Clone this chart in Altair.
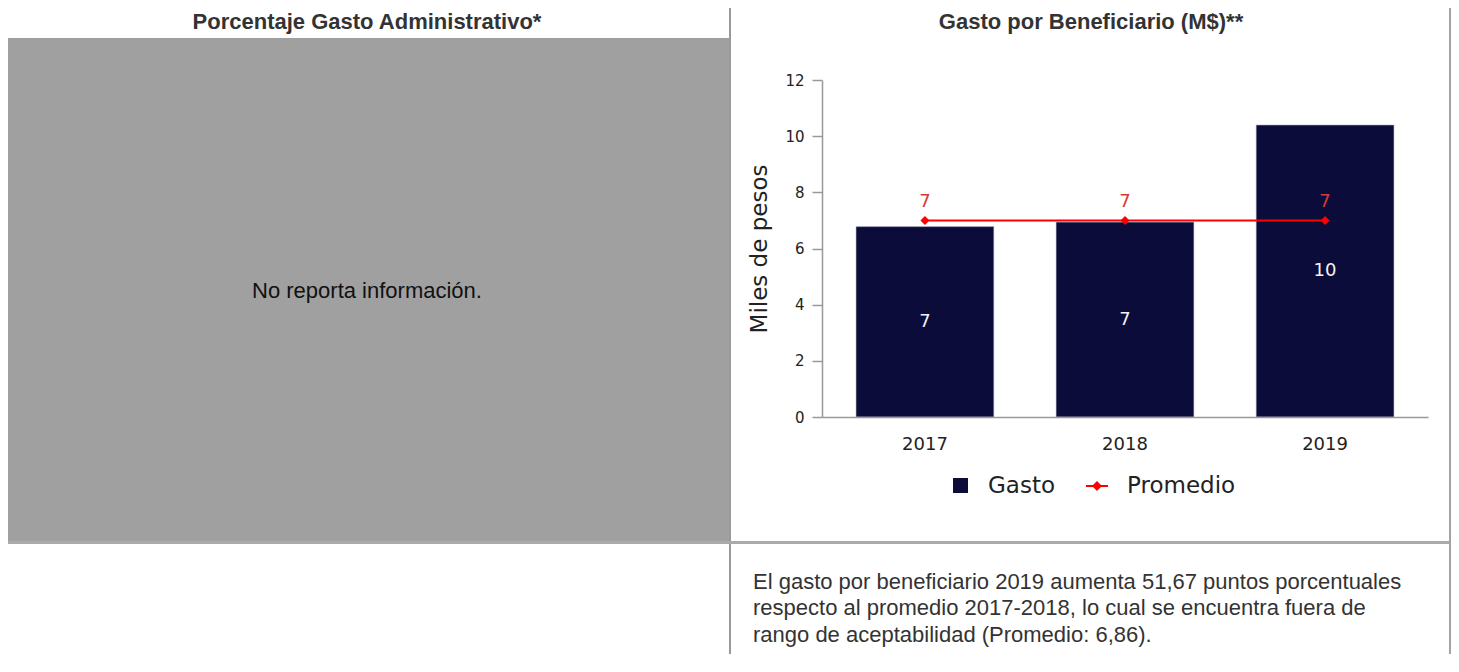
import altair as alt
import pandas as pd

# ---- data ----
years = ["2017", "2018", "2019"]
gasto = [6.78, 6.94, 10.40]
promedio = [7.0, 7.0, 7.0]
series = ["Gasto", "Promedio"]
series_colors = ["#0c0c3a", "#ff0000"]
y_ticks = list(range(0, 13))

header_left = "Porcentaje Gasto Administrativo*"
header_right = "Gasto por Beneficiario (M$)**"
no_info = "No reporta información."
comment_lines = [
    "El gasto por beneficiario 2019 aumenta 51,67 puntos porcentuales",
    "respecto al promedio 2017-2018, lo cual se encuentra fuera de",
    "rango de aceptabilidad (Promedio: 6,86).",
]

df = pd.DataFrame({"anio": years, "gasto": gasto, "promedio": promedio})
df["serie_g"] = series[0]
df["serie_p"] = series[1]

one = pd.DataFrame({"k": [0]})

# plot area origin sits at reference pixel (822, 80); width 606, height 337
W, H = 606, 337
X0, Y0 = 822, 80


def rx(v):
    return v - X0


def ry(v):
    return v - Y0


ARIAL = "Liberation Sans"
DEJAVU = "DejaVu Sans"


def box(x1, x2, y1, y2, color):
    return alt.Chart(one).mark_rect(color=color, strokeWidth=0).encode(
        x=alt.value(rx(x1)), x2=alt.value(rx(x2)), y=alt.value(ry(y1)), y2=alt.value(ry(y2))
    )


def label(txt, x, y, size, color, weight="normal", align="center", font=ARIAL):
    return alt.Chart(one).mark_text(
        text=txt, font=font, fontSize=size, fontWeight=weight, color=color,
        align=align, baseline="middle"
    ).encode(x=alt.value(rx(x)), y=alt.value(ry(y)))


decor = [
    box(8, 1451, 8, 654, "white"),
    box(8, 729, 38, 543, "#a0a0a0"),
    box(729, 731, 8, 654, "#999999"),
    box(1449, 1451, 8, 654, "#a3a3a3"),
    box(8, 1449, 541, 544, "#aaaaaa"),
]

texts = [
    label(header_left, 367, 22, 22, "#333333", weight="bold"),
    label(header_right, 1091, 22, 22, "#333333", weight="bold"),
    label(no_info, 367, 291, 22, "#111111"),
]
for i, line in enumerate(comment_lines):
    texts.append(label(line, 753, 581.5 + i * 26.5, 22, "#333333", align="left"))

x_enc = alt.X(
    "anio:N",
    sort=years,
    scale=alt.Scale(paddingInner=0.311, paddingOuter=0.17),
    axis=alt.Axis(
        title=None, labelAngle=0, ticks=False, labelFont=DEJAVU, labelFontSize=18,
        labelColor="#222222", labelPadding=18, domainColor="#999999", domainWidth=1.5,
        zindex=1,
    ),
)

y_scale = alt.Scale(domain=[0, 12], nice=False, zero=True)

bars = alt.Chart(df).mark_bar(stroke="#c0c0d0", strokeWidth=0.6).encode(
    x=x_enc,
    y=alt.Y(
        "gasto:Q",
        scale=y_scale,
        axis=alt.Axis(
            title="Miles de pesos", titleFont=DEJAVU, titleFontSize=23,
            titleFontWeight="normal", titleColor="#222222", titlePadding=13,
            values=y_ticks, grid=False, zindex=1,
            labelExpr="datum.value % 2 == 0 ? datum.label : ''",
            labelFont=DEJAVU, labelFontSize=15, labelColor="#222222", labelPadding=8,
            tickSize={"condition": {"test": "datum.value % 2 == 0", "value": 10}, "value": 6},
            tickColor="#999999", tickWidth=1.5, domainColor="#999999", domainWidth=1.5,
        ),
    ),
    color=alt.Color(
        "serie_g:N",
        scale=alt.Scale(domain=[series[0]], range=[series_colors[0]]),
        legend=alt.Legend(
            title=None, orient="none", legendX=127, legendY=394, symbolType="square",
            symbolSize=225, symbolStrokeWidth=0, labelFont=DEJAVU, labelFontSize=23,
            labelColor="#222222", labelOffset=16,
        ),
    ),
)

bar_labels = alt.Chart(df).transform_calculate(mid="datum.gasto / 2").mark_text(
    font=DEJAVU, fontSize=18, color="#f4f4f4", baseline="middle"
).encode(
    x=alt.X("anio:N", sort=years),
    y=alt.Y("mid:Q", scale=y_scale),
    text=alt.Text("gasto:Q", format=".0f"),
)

line = alt.Chart(df).mark_line(strokeWidth=2).encode(
    x=alt.X("anio:N", sort=years),
    y=alt.Y("promedio:Q", scale=y_scale),
    stroke=alt.Stroke(
        "serie_p:N",
        scale=alt.Scale(domain=[series[1]], range=[series_colors[1]]),
        legend=alt.Legend(
            title=None, orient="none", legendX=263, legendY=394,
            symbolType="M-1,0L1,0M-0.32,0L0,-0.32L0.32,0L0,0.32Z",
            symbolSize=484, symbolStrokeWidth=2, symbolFillColor="#ff0000",
            labelFont=DEJAVU, labelFontSize=23, labelColor="#222222", labelOffset=18,
        ),
    ),
)

points = alt.Chart(df).mark_point(shape="diamond", filled=True, size=80, opacity=1).encode(
    x=alt.X("anio:N", sort=years),
    y=alt.Y("promedio:Q", scale=y_scale),
    color=alt.value(series_colors[1]),
)

prom_labels = alt.Chart(df).mark_text(
    font=DEJAVU, fontSize=18, color="#d83a3a", baseline="middle", dy=-18
).encode(
    x=alt.X("anio:N", sort=years),
    y=alt.Y("promedio:Q", scale=y_scale),
    text=alt.Text("promedio:Q", format=".0f"),
)

chart = alt.layer(
    *decor, bars, bar_labels, line, points, prom_labels, *texts
).properties(
    width=W, height=H, padding=0, background="white"
).configure_view(stroke=None)

chart.save("out.html", embed_options={"renderer": "svg", "actions": False})
